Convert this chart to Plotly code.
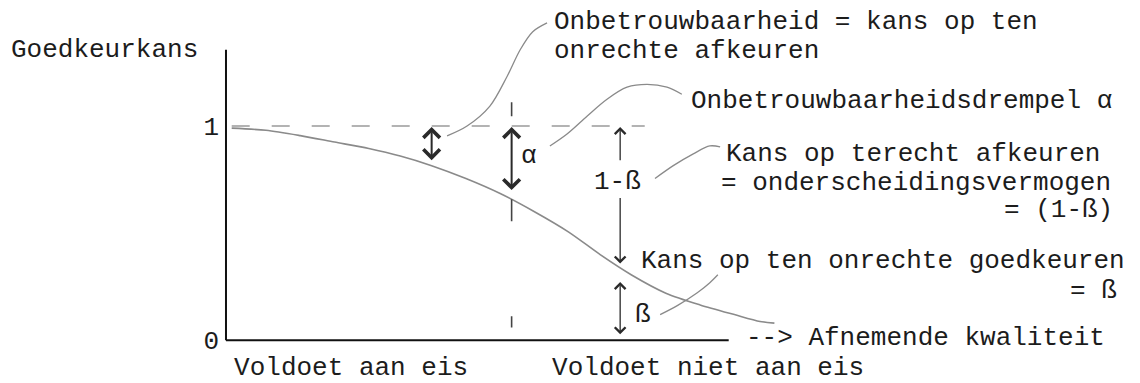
import numpy as np
import plotly.graph_objects as go

# Operating characteristic: acceptance probability against (decreasing) quality
quality = [0.1, 0.7, 1.3, 1.9, 2.5, 3.05, 3.6, 4.2, 4.8, 5.4, 6.0, 6.55, 7.1, 7.7, 8.3, 8.9, 9.35, 9.6]
accept_prob = [0.99, 0.98, 0.955, 0.925, 0.895, 0.86, 0.815, 0.755, 0.685, 0.60,
               0.505, 0.40, 0.305, 0.22, 0.165, 0.12, 0.088, 0.08]

y_ticks = [0, 1]
y_tick_labels = ["0", "1"]
category_pos = [2.19, 8.44]
category_labels = ["Voldoet aan eis", "Voldoet niet aan eis"]

risk_x = 3.6            # example point: chance of wrongly rejecting
requirement_x = 5.0     # requirement boundary (alpha threshold)
power_x = 6.9           # point where 1-ß and ß are shown
axis_end_x = 8.8
axis_top_y = 1.356
reference_end_x = 7.33

# callout leader paths (data coordinates)
leader1_x = [3.87, 4.22, 4.62, 4.92, 5.15, 5.37, 5.62]
leader1_y = [0.954, 1.0, 1.093, 1.231, 1.356, 1.44, 1.481]
leader2_x = [5.67, 5.97, 6.32, 6.67, 7.02, 7.37, 7.72, 7.98]
leader2_y = [0.907, 0.963, 1.046, 1.125, 1.181, 1.194, 1.181, 1.148]
leader3_x = [7.51, 7.83, 8.18, 8.47, 8.65]
leader3_y = [0.755, 0.815, 0.870, 0.907, 0.903]
leader4_x = [7.60, 7.90, 8.25, 8.47, 8.61]
leader4_y = [0.120, 0.162, 0.222, 0.269, 0.306]

W, H = 1140, 383
X_RANGE = [-3.956, 16.0]
Y_RANGE = [-0.1852, 1.588]

FONT = "Liberation Mono"
TXT = "#1c1c1c"
CURVE = "#8a8a8a"
ARROW = "#2a2a2a"


def curve_at(x):
    return float(np.interp(x, quality, accept_prob))


fig = go.Figure()

fig.add_trace(go.Scatter(x=quality, y=accept_prob, mode="lines",
                         line=dict(shape="spline", smoothing=0.8, color=CURVE, width=1.6),
                         hoverinfo="skip"))
for lx, ly in [(leader1_x, leader1_y), (leader2_x, leader2_y),
               (leader3_x, leader3_y), (leader4_x, leader4_y)]:
    fig.add_trace(go.Scatter(x=lx, y=ly, mode="lines",
                             line=dict(shape="spline", smoothing=0.9, color=CURVE, width=1.3),
                             hoverinfo="skip"))

shapes = [
    # axes
    dict(type="line", x0=0, x1=0, y0=0, y1=axis_top_y, line=dict(color="#111", width=2)),
    dict(type="line", x0=0, x1=axis_end_x, y0=0, y1=0, line=dict(color="#111", width=2)),
    # reference level 1
    dict(type="line", x0=quality[0], x1=reference_end_x, y0=1, y1=1,
         line=dict(color="#9a9a9a", width=1.3, dash="18px,22px")),
    # requirement boundary
    dict(type="line", x0=requirement_x, x1=requirement_x, y0=1.111, y1=0.06,
         line=dict(color="#444", width=1.6, dash="14px,83px,22px,95px,13px,200px")),
]


def arrow(x, y_head, y_tail, both=False, width=1.4, standoff=0, startstandoff=0):
    a = dict(x=x, y=y_head, ax=x, ay=y_tail, xref="x", yref="y", axref="x", ayref="y",
             text="", showarrow=True, arrowhead=4, arrowsize=1.6, arrowwidth=width,
             arrowcolor=ARROW, standoff=standoff, startstandoff=startstandoff)
    if both:
        a.update(arrowside="end+start", startarrowhead=4, startarrowsize=1.6)
    return a


beta_level = curve_at(power_x)
annotations = [
    arrow(risk_x, 1, curve_at(risk_x), both=True, width=2, standoff=1, startstandoff=4),
    arrow(requirement_x, 1, curve_at(requirement_x), both=True, width=2, standoff=1, startstandoff=8),
    arrow(power_x, 1, 0.833, width=1.3, standoff=1),
    arrow(power_x, beta_level, 0.671, width=1.3, standoff=4),
    arrow(power_x, 0, beta_level, both=True, width=1.3, standoff=6, startstandoff=13),
]


def label(text, px, py, anchor="left", size=26):
    return dict(text=text, x=px / W, y=1 - py / H, xref="paper", yref="paper",
                xanchor=anchor, yanchor="middle", showarrow=False, borderpad=0,
                font=dict(family=FONT, size=size, color=TXT))


annotations += [
    label("Goedkeurkans", 10, 50),
    label("Onbetrouwbaarheid = kans op ten", 553, 22),
    label("onrechte afkeuren", 553, 51),
    label("Onbetrouwbaarheidsdrempel α", 690, 102),
    label("Kans op terecht afkeuren", 725, 155),
    label("= onderscheidingsvermogen", 720, 184),
    label("= (1-ß)", 1114, 212, anchor="right"),
    label("Kans op ten onrechte goedkeuren", 640, 263),
    label("= ß", 1118, 293, anchor="right"),
    label("--> Afnemende kwaliteit", 745, 341),
    label("α", 520, 157),
    label("1-ß", 617, 183, anchor="center"),
    label("ß", 634, 317),
]

fig.update_layout(
    width=W, height=H, margin=dict(l=0, r=0, t=0, b=0),
    paper_bgcolor="white", plot_bgcolor="white", showlegend=False,
    shapes=shapes, annotations=annotations,
    xaxis=dict(range=X_RANGE, showgrid=False, zeroline=False, showline=False,
               tickvals=category_pos, ticktext=category_labels, ticks="",
               tickfont=dict(family=FONT, size=26, color=TXT),
               anchor="free", position=(H - 343) / H, ticklabelstandoff=8,
               fixedrange=True),
    yaxis=dict(range=Y_RANGE, showgrid=False, zeroline=False, showline=False,
               tickvals=y_ticks, ticktext=y_tick_labels, ticks="",
               tickfont=dict(family=FONT, size=26, color=TXT),
               anchor="free", position=226 / W, ticklabelstandoff=7,
               fixedrange=True),
)

fig.write_html("out.html")
